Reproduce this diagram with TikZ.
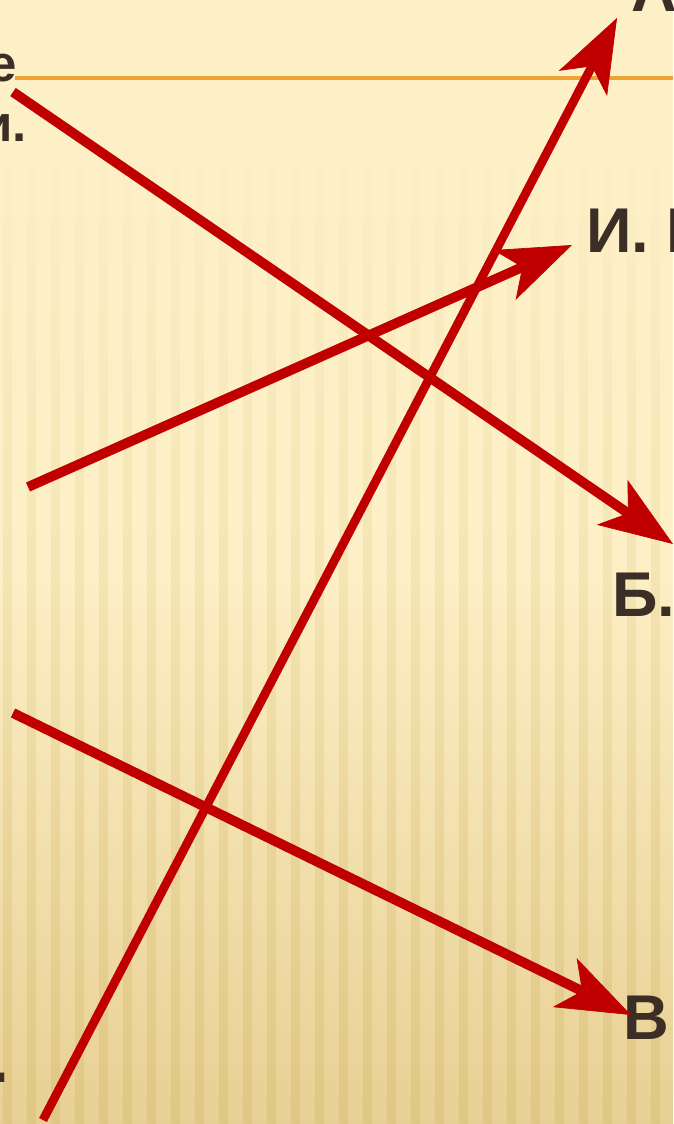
\documentclass[tikz,border=0pt]{standalone}
\usepackage{fontspec}
\setmainfont{Liberation Sans}
\usetikzlibrary{arrows.meta, fadings}

\definecolor{slidecream}{HTML}{FDF0C6}
\definecolor{slidetan}{HTML}{E7D093}
\definecolor{stripetan}{HTML}{D8BB72}
\definecolor{arrowred}{HTML}{C00000}
\definecolor{labelbrown}{HTML}{3B2E26}
\definecolor{ruleorange}{HTML}{EFA232}

\begin{document}
\begin{tikzpicture}[x=0.02cm, y=-0.02cm,
  ray/.style={line width=5.6pt, draw=arrowred, -{Stealth[length=42pt, width=31pt, inset=11pt, line width=0.4pt]}},
  thinray/.style={ray, line width=5pt},
  letter/.style={text=labelbrown, font=\bfseries\fontsize{36}{40}\selectfont, inner sep=0pt, anchor=base west},
  cutword/.style={text=labelbrown, font=\bfseries\fontsize{29}{32}\selectfont, inner sep=0pt, anchor=base east},
  stripe/.style={fill=stripetan, opacity=0.42, path fading=north}
]

% Fond de la diapositive
\clip (0,0) rectangle (673,1124);
\fill[slidecream] (0,0) rectangle (673,1124);
\fill[top color=slidecream, bottom color=slidetan] (0,560) rectangle (673,1124);
\foreach \sx in {3,27,...,675}
  \fill[stripe] (\sx,130) rectangle ++(9,994);

% Filet sous le titre
\coordinate (rulestart) at (15,78);
\coordinate (ruleend) at (673,78);
\draw[ruleorange, line width=2pt] (rulestart) -- (ruleend);

% Textes coupés au bord
\node[cutword] (wordE) at (17,82) {е};
\node[cutword] (wordI) at (27,142) {и.};
\node[letter, anchor=base east] (dotG) at (9,1082) {.};
\node[letter] (labelA) at (631,12) {А};
\node[letter] (labelI) at (586,253) {И. П};
\node[letter] (labelB) at (612,616) {Б.};
\node[letter] (labelV) at (623,1039) {В};

% Extrémités des flèches
\coordinate (rayAs) at (43,1120);   \coordinate (rayAe) at (617,18);
\coordinate (rayBs) at (13,92);     \coordinate (rayBe) at (673,544);
\coordinate (rayIs) at (28,487);    \coordinate (rayIe) at (572,245);
\coordinate (rayVs) at (13,713);    \coordinate (rayVe) at (631,1015);

% Flèches
\draw[ray] (rayBs) -- (rayBe);
\draw[ray] (rayIs) -- (rayIe);
\draw[ray] (rayVs) -- (rayVe);
\draw[thinray] (rayAs) -- (rayAe);

\end{tikzpicture}
\end{document}
